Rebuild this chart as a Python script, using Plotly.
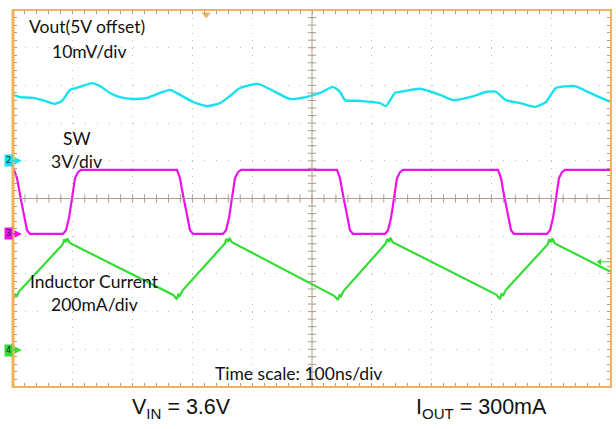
import numpy as np
import plotly.graph_objects as go

# ---- data: time in ns (100 ns/div), amplitude in screen divisions (0 = bottom, 10 = top)
vout_t = [0, 11.7, 33.4, 53.5, 70.2, 81.9, 95.3, 112.0, 132.1, 145.5, 162.2, 178.9, 200.7,
          224.1, 245.8, 262.5, 279.3, 301.0, 324.4, 346.2, 362.9, 379.6, 409.7, 438.1,
          463.2, 490.0, 513.4, 535.1, 546.8, 555.2, 580.3, 613.7, 623.7, 638.8, 655.5,
          680.6, 714.0, 735.8, 764.2, 792.6, 807.7, 824.4, 847.8, 872.9, 891.3, 908.0,
          939.8, 964.9, 995.0, 1000]
vout_div = [7.75, 7.69, 7.67, 7.59, 7.51, 7.59, 7.88, 7.96, 8.06, 7.98, 7.80, 7.69, 7.64,
            7.67, 7.80, 7.88, 7.75, 7.56, 7.45, 7.53, 7.72, 7.93, 8.04, 7.83,
            7.64, 7.69, 7.80, 7.96, 7.83, 7.61, 7.59, 7.53, 7.45, 7.80, 7.85,
            7.91, 7.75, 7.61, 7.69, 7.83, 7.83, 7.61, 7.53, 7.43, 7.56, 7.93,
            7.98, 7.80, 7.59, 7.56]

sw_t = [0, 1.7, 6.7, 10.0, 13.4, 18.4, 23.4, 28.4,
        83.6, 88.6, 93.6, 97.0, 100.3, 103.7, 108.7, 113.7,
        274.2, 279.3, 282.6, 285.9, 291.0, 296.0, 301.0,
        351.2, 356.2, 361.2, 364.5, 367.9, 371.2, 376.3, 381.3,
        541.8, 546.8, 550.2, 553.5, 558.5, 563.5, 568.6,
        622.1, 627.1, 632.1, 635.5, 638.8, 642.1, 647.2, 652.2,
        811.0, 816.1, 819.4, 822.7, 827.8, 832.8, 837.8,
        893.0, 898.0, 903.0, 906.4, 909.7, 913.0, 918.1, 923.1, 1000]
sw_div = [5.76, 5.76, 5.54, 5.23, 4.96, 4.56, 4.16, 4.06,
          4.06, 4.16, 4.48, 4.83, 5.23, 5.54, 5.70, 5.76,
          5.76, 5.54, 5.23, 4.96, 4.56, 4.16, 4.06,
          4.06, 4.16, 4.48, 4.83, 5.23, 5.54, 5.70, 5.76,
          5.76, 5.54, 5.23, 4.96, 4.56, 4.16, 4.06,
          4.06, 4.16, 4.48, 4.83, 5.23, 5.54, 5.70, 5.76,
          5.76, 5.54, 5.23, 4.96, 4.56, 4.16, 4.06,
          4.06, 4.16, 4.48, 4.83, 5.23, 5.54, 5.70, 5.76, 5.76]

il_t = [0, 1.7, 4.0, 6.5, 10.0,
        83.0, 86.0, 88.6, 91.0, 95.0,
        268.0, 272.0, 274.2, 276.5, 279.0, 284.0,
        354.0, 357.0, 359.5, 362.0, 366.0,
        537.0, 541.0, 543.5, 546.0, 548.5, 553.0,
        623.0, 626.0, 628.8, 631.0, 635.0,
        808.0, 812.0, 814.4, 817.0, 819.5, 824.0,
        894.0, 897.0, 899.7, 902.0, 906.0, 1000]
il_div = [2.42, 2.36, 2.45, 2.41, 2.53,
          3.78, 3.92, 3.84, 3.94, 3.82,
          2.44, 2.38, 2.33, 2.47, 2.42, 2.57,
          3.80, 3.93, 3.85, 3.95, 3.84,
          2.42, 2.36, 2.31, 2.45, 2.40, 2.55,
          3.80, 3.93, 3.85, 3.96, 3.84,
          2.45, 2.38, 2.33, 2.48, 2.42, 2.57,
          3.78, 3.92, 3.84, 3.94, 3.81, 3.05]

ch_labels = ["2", "3", "4"]
ch_levels = [6.0, 4.06, 0.98]
trig_level = 3.32
trig_time = 323

CYAN = "#14e2ee"
MAGENTA = "#ee10ee"
GREEN = "#33dd33"
ORANGE = "#f2b257"
CROSS = "#ab9f8a"
GRID = "#bdbdbd"
TXT = "Lato, Open Sans, sans-serif"

fig = go.Figure()

# centre crosshair tick marks
minor_x = np.arange(0, 1001, 20)
minor_y = np.arange(0, 10.01, 0.2)
fig.add_trace(go.Scatter(x=minor_x, y=[5] * len(minor_x), mode="markers", hoverinfo="skip",
                         marker=dict(symbol="line-ns", size=6, line=dict(width=1, color=CROSS)),
                         showlegend=False))
fig.add_trace(go.Scatter(x=[500] * len(minor_y), y=minor_y, mode="markers", hoverinfo="skip",
                         marker=dict(symbol="line-ew", size=6, line=dict(width=1, color=CROSS)),
                         showlegend=False))

fig.add_trace(go.Scatter(x=vout_t, y=vout_div, mode="lines",
                         line=dict(color=CYAN, width=2.4, shape="spline", smoothing=0.5),
                         showlegend=False))
fig.add_trace(go.Scatter(x=sw_t, y=sw_div, mode="lines", line=dict(color=MAGENTA, width=2.2),
                         showlegend=False))
fig.add_trace(go.Scatter(x=il_t, y=il_div, mode="lines", line=dict(color=GREEN, width=2.2),
                         showlegend=False))

# trigger position marker at the top
fig.add_trace(go.Scatter(x=[trig_time], y=[9.88], mode="markers", cliponaxis=False, hoverinfo="skip",
                         marker=dict(symbol="triangle-down", size=8, color=ORANGE), showlegend=False))
# trigger level arrow on the right
fig.add_trace(go.Scatter(x=[980, 1000], y=[trig_level, trig_level], mode="lines", cliponaxis=False,
                         hoverinfo="skip", line=dict(color=GREEN, width=1), showlegend=False))
fig.add_trace(go.Scatter(x=[981], y=[trig_level], mode="markers", cliponaxis=False, hoverinfo="skip",
                         marker=dict(symbol="triangle-left", size=6, color=GREEN), showlegend=False))

shapes = [
    dict(type="line", xref="x", yref="y", x0=500, x1=500, y0=0, y1=10, line=dict(color=CROSS, width=1)),
    dict(type="line", xref="x", yref="y", x0=0, x1=1000, y0=5, y1=5, line=dict(color=CROSS, width=1)),
    dict(type="rect", xref="paper", yref="paper", x0=0, x1=1, y0=0, y1=1, line=dict(color=ORANGE, width=2)),
    dict(type="line", xref="paper", yref="paper", x0=0, x1=0, y0=0, y1=1, line=dict(color=ORANGE, width=3)),
]

ann = []
texts = [
    ("Vout(5V offset)", 0.124, 0.955),
    ("10mV/div", 0.127, 0.889),
    ("SW", 0.107, 0.660),
    ("3V/div", 0.107, 0.597),
    ("Inductor Current", 0.137, 0.281),
    ("200mA/div", 0.136, 0.220),
    ("Time scale: 100ns/div", 0.478, 0.0345),
]
for t, x, y in texts:
    ann.append(dict(text=t, x=x, y=y, xref="paper", yref="paper", showarrow=False,
                    xanchor="center", yanchor="middle", font=dict(family=TXT, size=17.5, color="#111")))

ann.append(dict(text="V<sub>IN</sub> = 3.6V", x=0.281, y=-0.058, xref="paper", yref="paper", showarrow=False,
                xanchor="center", yanchor="middle", font=dict(family="Liberation Sans, Arial", size=21.5, color="#111")))
ann.append(dict(text="I<sub>OUT</sub> = 300mA", x=0.783, y=-0.058, xref="paper", yref="paper", showarrow=False,
                xanchor="center", yanchor="middle", font=dict(family="Liberation Sans, Arial", size=21.5, color="#111")))

for lab, lev, col in zip(ch_labels, ch_levels, [CYAN, MAGENTA, GREEN]):
    ann.append(dict(text=lab, x=0.015, y=lev, xref="paper", yref="y", showarrow=True,
                    ax=-13, ay=0, arrowhead=2, arrowsize=1, arrowwidth=1.5, arrowcolor=col,
                    bgcolor=col, borderpad=1, font=dict(size=8, color="#222", family="DejaVu Sans")))

fig.update_layout(
    width=616, height=429,
    margin=dict(l=13, r=5, t=10, b=42),
    paper_bgcolor="white", plot_bgcolor="white",
    shapes=shapes, annotations=ann,
    xaxis=dict(range=[0, 1000], dtick=100, tick0=0, showticklabels=False, zeroline=False,
               showgrid=True, gridcolor=GRID, gridwidth=1, griddash="1px,6.54px",
               ticks="inside", ticklen=4, tickcolor=CROSS, mirror="ticks", showline=False,
               minor=dict(dtick=20, ticks="inside", ticklen=4, tickcolor=CROSS, showgrid=False)),
    yaxis=dict(range=[0, 10], dtick=1, tick0=0, showticklabels=False, zeroline=False,
               showgrid=True, gridcolor=GRID, gridwidth=1, griddash="1px,10.96px",
               ticks="inside", ticklen=4, tickcolor=CROSS, mirror="ticks", showline=False,
               minor=dict(dtick=0.2, ticks="inside", ticklen=4, tickcolor=CROSS, showgrid=False)),
)

fig.write_html("out.html", config={"displayModeBar": False},
               post_script="document.body.style.margin='0';document.body.style.overflow='hidden';")
